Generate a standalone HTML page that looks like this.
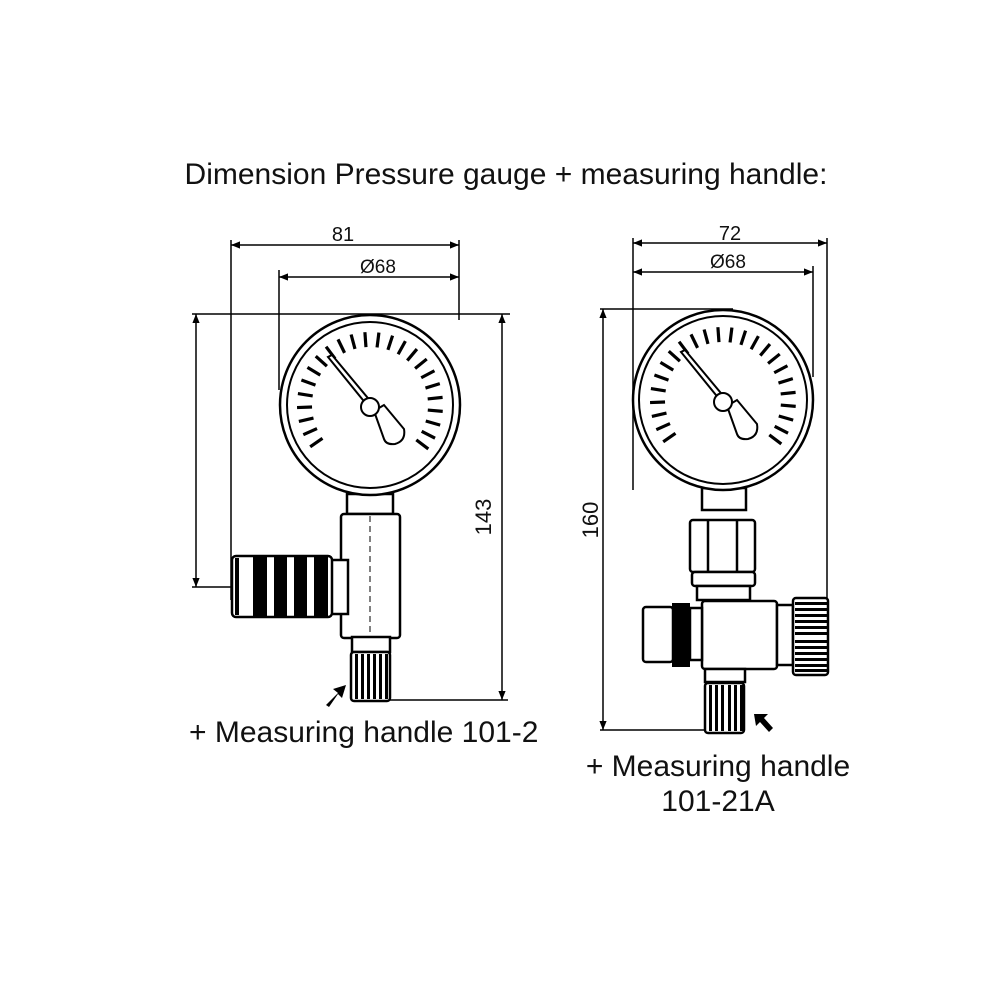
<!DOCTYPE html>
<html><head><style>
body{margin:0;background:#fff}
svg{display:block}
text{font-family:"Liberation Sans",Arial,sans-serif;fill:#111}
</style></head><body>
<svg width="1000" height="1000" viewBox="0 0 1000 1000" xmlns="http://www.w3.org/2000/svg">
<defs>
<marker id="ar" viewBox="0 0 10 10" refX="10" refY="5" markerWidth="8" markerHeight="6" orient="auto-start-reverse"><path d="M0,1 L10,5 L0,9 z" fill="#000"/></marker>
<line id="tk" x1="0" y1="-58" x2="0" y2="-73" stroke="#000" stroke-width="3.2"/>
<g id="ticks">
<use href="#tk" transform="rotate(-125)"/><use href="#tk" transform="rotate(-114)"/><use href="#tk" transform="rotate(-103)"/><use href="#tk" transform="rotate(-92)"/><use href="#tk" transform="rotate(-81)"/><use href="#tk" transform="rotate(-70)"/><use href="#tk" transform="rotate(-59)"/><use href="#tk" transform="rotate(-48)"/><use href="#tk" transform="rotate(-37)"/><use href="#tk" transform="rotate(-26)"/><use href="#tk" transform="rotate(-15)"/><use href="#tk" transform="rotate(-4)"/><use href="#tk" transform="rotate(7)"/><use href="#tk" transform="rotate(18)"/><use href="#tk" transform="rotate(29)"/><use href="#tk" transform="rotate(40)"/><use href="#tk" transform="rotate(51)"/><use href="#tk" transform="rotate(62)"/><use href="#tk" transform="rotate(73)"/><use href="#tk" transform="rotate(84)"/><use href="#tk" transform="rotate(95)"/><use href="#tk" transform="rotate(106)"/><use href="#tk" transform="rotate(117)"/><use href="#tk" transform="rotate(127)"/>
</g>
<g id="needle">
<path d="M-3,-2 L-42,-50 L-38,-52 L2,-4 z" fill="#fff" stroke="#000" stroke-width="2"/>
<path d="M4,4 L14,-2 L34,22 Q36,34 25,37 Q16,38 14,32 z" fill="#fff" stroke="#000" stroke-width="2"/>
<circle r="9" fill="#fff" stroke="#000" stroke-width="2"/>
</g>
</defs>

<text x="506" y="184" font-size="30" text-anchor="middle">Dimension Pressure gauge + measuring handle:</text>

<!-- LEFT -->
<g stroke="#000" stroke-width="1.5" fill="none">
<line x1="231" y1="240" x2="231" y2="600"/>
<line x1="459" y1="240" x2="459" y2="320"/>
<line x1="279" y1="270" x2="279" y2="390"/>
<line x1="231" y1="245" x2="459" y2="245" marker-start="url(#ar)" marker-end="url(#ar)"/>
<line x1="279" y1="277" x2="459" y2="277" marker-start="url(#ar)" marker-end="url(#ar)"/>
<line x1="192" y1="314" x2="510" y2="314"/>
<line x1="196" y1="314" x2="196" y2="587" marker-start="url(#ar)" marker-end="url(#ar)"/>
<line x1="192" y1="587" x2="236" y2="587"/>
<line x1="502" y1="314" x2="502" y2="700" marker-start="url(#ar)" marker-end="url(#ar)"/>
<line x1="389" y1="700" x2="508" y2="700"/>
</g>
<text x="343" y="241" font-size="20" text-anchor="middle">81</text>
<text x="378" y="273" font-size="19" text-anchor="middle">Ø68</text>
<text x="0" y="0" font-size="22" text-anchor="middle" transform="translate(491,517) rotate(-90)">143</text>

<g stroke="#000" stroke-width="2.5" fill="#fff">
<rect x="347" y="494" width="46" height="20"/>
<circle cx="370" cy="405" r="90"/>
<circle cx="370" cy="405" r="83" stroke-width="2"/>
<rect x="341" y="514" width="59" height="124" rx="3"/>
<rect x="330" y="560" width="18" height="54"/>
<rect x="232" y="556" width="100" height="61" rx="4"/>
<rect x="352" y="637" width="38" height="15"/>
<rect x="351" y="652" width="39" height="49" rx="3"/>
</g>
<g fill="#000">
<rect x="253" y="557" width="14" height="59"/>
<rect x="274" y="557" width="13" height="59"/>
<rect x="294" y="557" width="13" height="59"/>
<rect x="314" y="557" width="14" height="59"/>
<rect x="235" y="558" width="4" height="57"/>
<rect x="355" y="654" width="3" height="45"/><rect x="361" y="654" width="3" height="45"/><rect x="367" y="654" width="3" height="45"/><rect x="373" y="654" width="3" height="45"/><rect x="379" y="654" width="3" height="45"/><rect x="385" y="654" width="3" height="45"/>
</g>
<line x1="370" y1="516" x2="370" y2="636" stroke="#000" stroke-width="1" stroke-dasharray="6,4"/>
<use href="#ticks" transform="translate(370,405)"/>
<use href="#needle" transform="translate(370,407)"/>
<path d="M326,705 L338,693 L333,689 L346,685 L342,698 L338,694 L329,707 z" fill="#000"/>
<text x="189" y="742" font-size="30">+ Measuring handle 101-2</text>

<!-- RIGHT -->
<g stroke="#000" stroke-width="1.5" fill="none">
<line x1="633" y1="238" x2="633" y2="490"/>
<line x1="827" y1="238" x2="827" y2="600"/>
<line x1="813" y1="266" x2="813" y2="377"/>
<line x1="633" y1="243" x2="827" y2="243" marker-start="url(#ar)" marker-end="url(#ar)"/>
<line x1="633" y1="272" x2="813" y2="272" marker-start="url(#ar)" marker-end="url(#ar)"/>
<line x1="600" y1="309" x2="733" y2="309"/>
<line x1="603" y1="309" x2="603" y2="730" marker-start="url(#ar)" marker-end="url(#ar)"/>
<line x1="600" y1="730" x2="706" y2="730"/>
</g>
<text x="730" y="240" font-size="20" text-anchor="middle">72</text>
<text x="728" y="268" font-size="19" text-anchor="middle">Ø68</text>
<text x="0" y="0" font-size="22" text-anchor="middle" transform="translate(598,520) rotate(-90)">160</text>

<g stroke="#000" stroke-width="2.5" fill="#fff">
<rect x="702" y="488" width="44" height="22"/>
<circle cx="723" cy="400" r="90"/>
<circle cx="723" cy="400" r="84" stroke-width="2"/>
<rect x="690" y="520" width="65" height="52" rx="3"/>
<line x1="708" y1="520" x2="708" y2="572"/><line x1="737" y1="520" x2="737" y2="572"/>
<rect x="692" y="572" width="63" height="14" rx="3"/>
<rect x="697" y="586" width="53" height="14"/>
<rect x="702" y="601" width="75" height="68" rx="3"/>
<rect x="777" y="605" width="16" height="60"/>
<rect x="793" y="598" width="35" height="77" rx="3"/>
<rect x="690" y="608" width="12" height="52"/>
<rect x="643" y="607" width="30" height="55" rx="3"/>
<rect x="705" y="669" width="40" height="13"/>
<rect x="705" y="683" width="39" height="50" rx="3"/>
</g>
<g fill="#000">
<rect x="672" y="603" width="18" height="64"/>
<rect x="795" y="602" width="32" height="3"/><rect x="795" y="608" width="32" height="3"/><rect x="795" y="614" width="32" height="3"/><rect x="795" y="620" width="32" height="3"/><rect x="795" y="626" width="32" height="3"/><rect x="795" y="632" width="32" height="3"/><rect x="795" y="640" width="32" height="3"/><rect x="795" y="646" width="32" height="3"/><rect x="795" y="652" width="32" height="3"/><rect x="795" y="658" width="32" height="3"/><rect x="795" y="664" width="32" height="3"/><rect x="795" y="669" width="32" height="3"/>
<rect x="709" y="685" width="3" height="46"/><rect x="715" y="685" width="3" height="46"/><rect x="721" y="685" width="3" height="46"/><rect x="728" y="685" width="3" height="46"/><rect x="734" y="685" width="3" height="46"/><rect x="740" y="685" width="3" height="46"/>
</g>
<use href="#ticks" transform="translate(723,400)"/>
<use href="#needle" transform="translate(723,402)"/>
<path d="M754,714 L768,714 L764,718 L773,728 L769,732 L760,722 L756,726 z" fill="#000"/>
<text x="718" y="776" font-size="30" text-anchor="middle">+ Measuring handle</text>
<text x="718" y="811" font-size="30" text-anchor="middle">101-21A</text>
</svg>
</body></html>
